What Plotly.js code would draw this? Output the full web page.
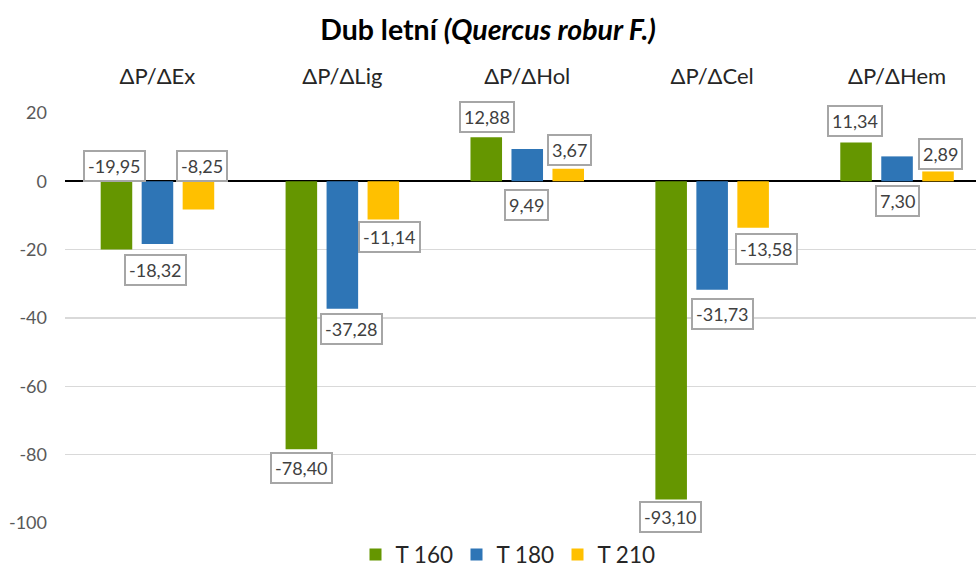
<!DOCTYPE html>
<html>
<head>
<meta charset="utf-8">
<script src="https://cdn.plot.ly/plotly-3.0.1.min.js"></script>
<style>html,body{margin:0;padding:0;background:#fff}#chart{width:976px;height:567px}</style>
</head>
<body>
<div id="chart"></div>
<script>
// ---- data ----
const categories = ["ΔP/ΔEx", "ΔP/ΔLig", "ΔP/ΔHol", "ΔP/ΔCel", "ΔP/ΔHem"];
const seriesNames = ["T 160", "T 180", "T 210"];
const t160 = [-19.95, -78.40, 12.88, -93.10, 11.34];
const t180 = [-18.32, -37.28, 9.49, -31.73, 7.30];
const t210 = [-8.25, -11.14, 3.67, -13.58, 2.89];
const yTicks = [-100, -80, -60, -40, -20, 0, 20];

// ---- styling ----
const colors = ["#659600", "#2E75B6", "#FFC000"];
const FONT = "Lato, 'Open Sans', sans-serif";
// label box offsets (px) relative to the end of each bar: [dx, dy] (dy positive = down)
const labelOffsets = [
  [[-2, -84], [0, 19], [1, -20], [-1, 18], [-1, -22]],
  [[-2, 26], [9, 20], [-1, 56], [10, 24], [0, 45]],
  [[4, -44], [6, 18], [1, -19], [13, 21], [2, -17]]
];

const values = [t160, t180, t210];
const bargap = 0.335;
const xRange = [-0.5, 4.427];
const plotW = 976 - 65;
const pxPerCat = plotW / (xRange[1] - xRange[0]);
const slotPx = pxPerCat * (1 - bargap) / 3;

const traces = values.map((v, i) => ({
  type: "bar",
  name: seriesNames[i],
  x: categories,
  y: v,
  marker: {color: colors[i]},
  hoverinfo: "skip"
}));

const fmt = v => v.toFixed(2).replace(".", ",");
const annotations = [];
values.forEach((v, si) => {
  v.forEach((val, ci) => {
    const off = labelOffsets[si][ci];
    annotations.push({
      x: categories[ci], y: val, xref: "x", yref: "y",
      xshift: (si - 1) * slotPx + off[0],
      yshift: -off[1],
      text: fmt(val), showarrow: false,
      font: {family: FONT, size: 18, color: "#404040"},
      bgcolor: "#ffffff", bordercolor: "#a6a6a6", borderwidth: 2, borderpad: 3,
      xanchor: "center", yanchor: "middle"
    });
  });
});

const layout = {
  width: 976, height: 567,
  margin: {l: 65, r: 0, t: 113, b: 44, autoexpand: false},
  paper_bgcolor: "#ffffff", plot_bgcolor: "#ffffff",
  font: {family: FONT},
  title: {
    text: "<b>Dub letní <i>(Quercus robur F.)</i></b>",
    font: {family: FONT, size: 28.5, color: "#000000"},
    x: 0.5, xref: "container", xanchor: "center",
    y: 1 - 30 / 567, yref: "container", yanchor: "middle"
  },
  barmode: "group",
  bargap: bargap,
  bargroupgap: 0.23,
  xaxis: {
    type: "category", side: "top", range: xRange,
    showgrid: false, showline: false, zeroline: false, ticks: "",
    ticklabelstandoff: 24,
    tickfont: {family: FONT, size: 22, color: "#262626"}
  },
  yaxis: {
    range: [-100, 20], tickvals: yTicks, ticktext: yTicks.map(String),
    showgrid: true, gridcolor: "#d9d9d9", gridwidth: 1.5,
    zeroline: true, zerolinecolor: "#000000", zerolinewidth: 2,
    showline: false, ticks: "", ticklabelstandoff: 17,
    tickfont: {family: FONT, size: 18, color: "#595959"}
  },
  showlegend: true,
  legend: {
    orientation: "h", xref: "container", yref: "paper",
    x: 507 / 976, xanchor: "center", y: -0.078, yanchor: "middle",
    font: {family: FONT, size: 22.5, color: "#262626"},
    itemwidth: 30, tracegroupgap: 0,
    entrywidth: 56, entrywidthmode: "pixels"
  },
  annotations: annotations
};

Plotly.newPlot("chart", traces, layout, {displayModeBar: false, staticPlot: true});
</script>
</body>
</html>
